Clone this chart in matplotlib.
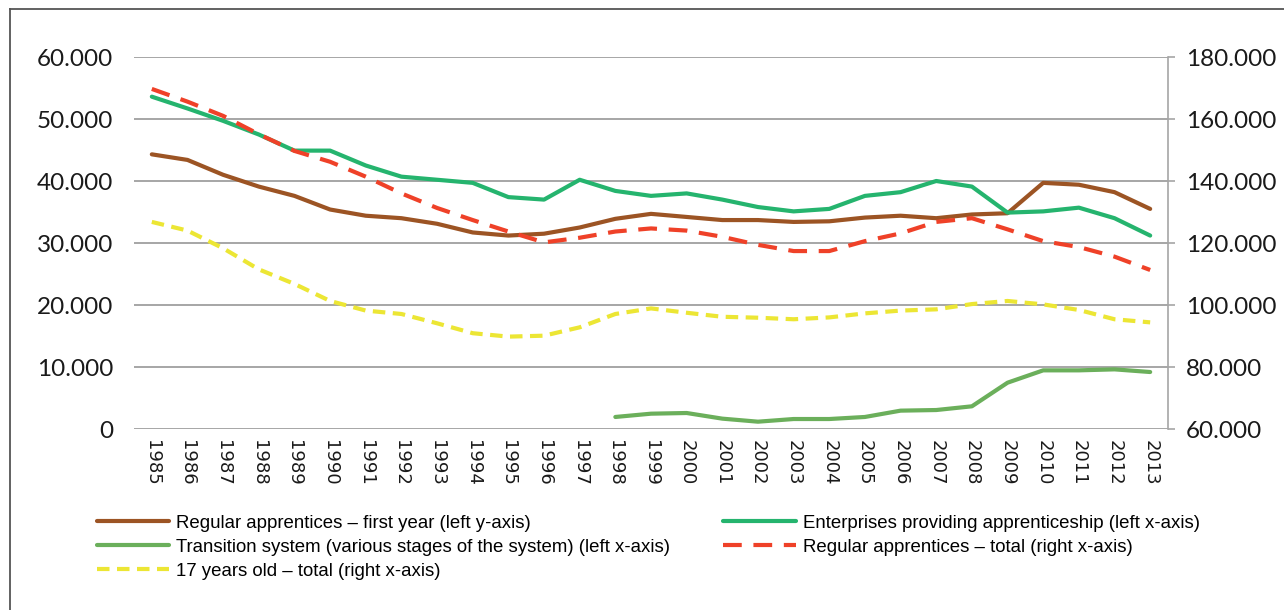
import matplotlib
matplotlib.use("Agg")
import matplotlib.pyplot as plt
from matplotlib.lines import Line2D
import numpy as np

years = list(range(1985, 2014))

first_year = [44.3, 43.4, 41.0, 39.1, 37.6, 35.4, 34.4, 34.0, 33.1, 31.7,
              31.2, 31.5, 32.5, 33.9, 34.7, 34.2, 33.7, 33.7, 33.4, 33.5,
              34.1, 34.4, 34.0, 34.6, 34.8, 39.7, 39.4, 38.2, 35.5]
enterprises = [53.6, 51.7, 49.7, 47.5, 44.9, 44.9, 42.5, 40.7, 40.2, 39.7,
               37.4, 37.0, 40.2, 38.4, 37.6, 38.0, 37.0, 35.8, 35.1, 35.5,
               37.6, 38.2, 40.0, 39.1, 34.9, 35.1, 35.7, 34.0, 31.2]
transition = [None] * 13 + [1.94, 2.47, 2.58, 1.67, 1.18, 1.61, 1.61, 1.94,
                            2.96, 3.06, 3.66, 7.47, 9.46, 9.46, 9.62, 9.19]
total_apprentices = [169.7, 165.6, 161.0, 155.1, 149.7, 146.2, 141.4, 136.0, 131.3, 127.4,
                     123.7, 120.2, 121.7, 123.7, 124.7, 124.0, 122.0, 119.4, 117.4, 117.4,
                     120.6, 123.1, 126.8, 128.0, 124.4, 120.6, 118.7, 115.6, 111.3]
age17_total = [126.8, 124.0, 118.3, 111.5, 106.8, 101.3, 98.2, 97.1, 94.1, 90.9,
               89.8, 90.1, 92.8, 97.1, 98.9, 97.5, 96.2, 95.9, 95.4, 96.0,
               97.3, 98.2, 98.6, 100.3, 101.3, 100.2, 98.4, 95.4, 94.4]

left_ticks = [0, 10, 20, 30, 40, 50, 60]
left_labels = ["0", "10.000", "20.000", "30.000", "40.000", "50.000", "60.000"]
right_ticks = [60, 80, 100, 120, 140, 160, 180]
right_labels = ["60.000", "80.000", "100.000", "120.000", "140.000", "160.000", "180.000"]

labels = ["Regular apprentices \u2013 first year (left y-axis)",
          "Enterprises providing apprenticeship (left x-axis)",
          "Transition system (various stages of the system) (left x-axis)",
          "Regular apprentices \u2013 total (right x-axis)",
          "17 years old \u2013 total (right x-axis)"]

c_brown = "#9C5424"
c_ent = "#25B46E"
c_trans = "#6BAF5B"
c_red = "#EF4128"
c_yel = "#ECE634"
grid_c = "#A6A6A6"

tick_font = "Lato"
leg_font = "Liberation Sans"

fig = plt.figure(figsize=(12.84, 6.10), dpi=100)
ax = fig.add_axes([134 / 1284, 1 - 429 / 610, (1168 - 134) / 1284, (429 - 57) / 610])
ax2 = ax.twinx()

x = np.arange(len(years))
trans = np.array([np.nan if v is None else v for v in transition], dtype=float)

l1, = ax.plot(x, first_year, color=c_brown, lw=3.0, solid_capstyle="round", zorder=3)
l2, = ax.plot(x, enterprises, color=c_ent, lw=3.0, solid_capstyle="round", zorder=3)
l3, = ax.plot(x, trans, color=c_trans, lw=3.0, solid_capstyle="round", zorder=3)
l4, = ax2.plot(x, total_apprentices, color=c_red, lw=3.0, dashes=(4.5, 2.8), zorder=3)
l5, = ax2.plot(x, age17_total, color=c_yel, lw=3.0, dashes=(3.0, 1.8), zorder=3)

ax.set_xlim(-0.5, len(years) - 0.5)
ax.set_ylim(0, 60)
ax2.set_ylim(60, 180)

ax.set_yticks(left_ticks)
ax.set_yticklabels(left_labels, fontsize=17.5, family=tick_font, color="#1a1a1a")
ax2.set_yticks(right_ticks)
ax2.set_yticklabels(right_labels, fontsize=17.5, family=tick_font, color="#1a1a1a")
ax.tick_params(axis="y", length=0, pad=15)
ax2.tick_params(axis="y", length=5, width=1.2, color=grid_c, pad=8, direction="out")

ax.set_xticks(x)
ax.set_xticklabels([str(y) for y in years], rotation=270, fontsize=13,
                   family="DejaVu Sans", color="#1a1a1a")
ax.tick_params(axis="x", length=0, pad=8)

ax.yaxis.grid(True, color=grid_c, lw=1.4)
ax.set_axisbelow(True)
for s in ["top", "left", "bottom", "right"]:
    ax.spines[s].set_visible(False)
for s in ["top", "left", "bottom"]:
    ax2.spines[s].set_visible(False)
ax2.spines["right"].set_color(grid_c)
ax2.spines["right"].set_linewidth(1.2)

handles = [l1, l3, l5, l2, l4]
hl = [labels[0], labels[2], labels[4], labels[1], labels[3]]
leg = fig.legend(handles, hl, ncol=2, loc="upper left",
                 bbox_to_anchor=(80 / 1284, 1 - 498 / 610),
                 frameon=False, handlelength=3.9, handletextpad=0.38,
                 columnspacing=2.85, labelspacing=0.37,
                 prop={"family": leg_font, "size": 13.4})

fig.add_artist(Line2D([10 / 1284, 10 / 1284], [0, 1 - 9 / 610], transform=fig.transFigure,
                      color="#555555", lw=1.3))
fig.add_artist(Line2D([10 / 1284, 1], [1 - 9 / 610, 1 - 9 / 610], transform=fig.transFigure,
                      color="#555555", lw=1.3))

fig.savefig("out.png", dpi=100)
